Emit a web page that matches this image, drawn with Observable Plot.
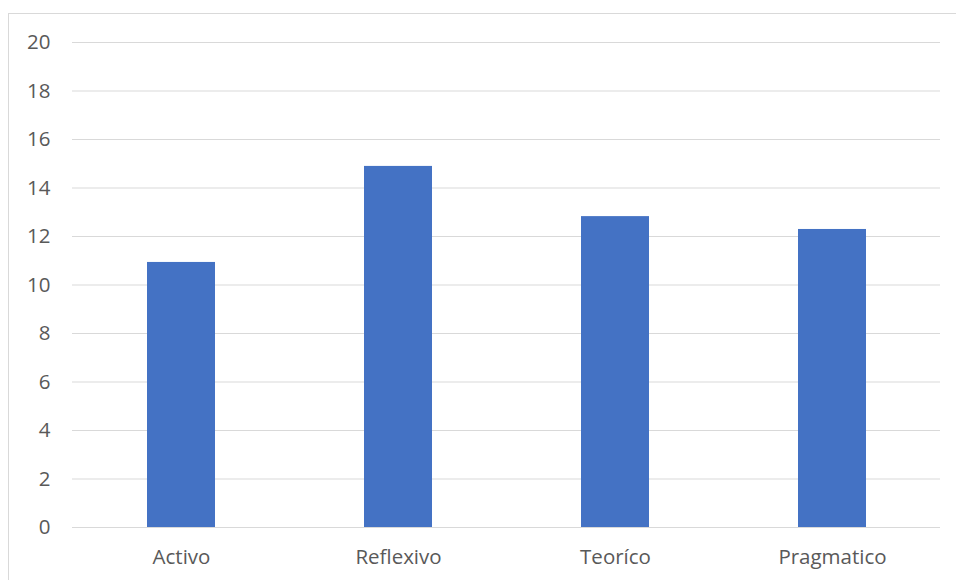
<!DOCTYPE html>
<html>
<head>
<meta charset="utf-8">
<script src="https://cdn.jsdelivr.net/npm/d3@7"></script>
<script src="https://cdn.jsdelivr.net/npm/@observablehq/plot@0.6"></script>
<style>
  html, body { margin: 0; padding: 0; background: #fff; }
  #wrap { position: relative; width: 956px; height: 580px; overflow: hidden; }
  #frame { position: absolute; left: 8px; top: 13px; width: 1000px; height: 700px; border: 1px solid #d9d9d9; box-sizing: border-box; }
  #chart { position: absolute; left: 0; top: 0; }
</style>
</head>
<body>
<div id="wrap">
  <div id="frame"></div>
  <div id="chart"></div>
</div>
<script>
const categories = ["Activo", "Reflexivo", "Teoríco", "Pragmatico"];
const values = [10.93, 14.89, 12.82, 12.29];
const yTicks = [0, 2, 4, 6, 8, 10, 12, 14, 16, 18, 20];

const data = categories.map((c, i) => ({category: c, value: values[i]}));

const chart = Plot.plot({
  width: 956,
  height: 580,
  marginLeft: 72,
  marginRight: 16,
  marginTop: 42,
  marginBottom: 53,
  style: {fontFamily: "'Open Sans', sans-serif", fontSize: "20.5px", color: "#595959", background: "transparent"},
  x: {domain: categories, paddingInner: 0.687, paddingOuter: 0.3435, label: null},
  y: {domain: [0, 20], label: null},
  marks: [
    Plot.gridY(yTicks, {stroke: "#d9d9d9", strokeOpacity: 1, strokeWidth: 1}),
    Plot.barY(data, {x: "category", y: "value", fill: "#4472c4"}),
    Plot.ruleY([0], {stroke: "#d9d9d9", strokeWidth: 1}),
    Plot.axisY(yTicks, {tickSize: 0, tickPadding: 22, label: null, fill: "#595959"}),
    Plot.axisX({tickSize: 0, tickPadding: 22, label: null, fill: "#595959"})
  ]
});
document.getElementById("chart").appendChild(chart);
</script>
</body>
</html>
